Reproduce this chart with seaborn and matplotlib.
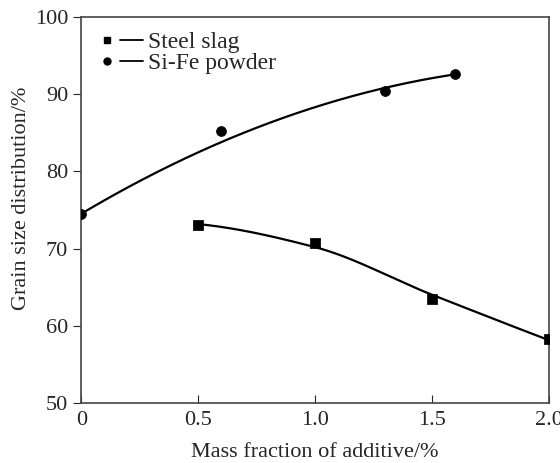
import numpy as np
import pandas as pd
import matplotlib
matplotlib.use('Agg')
import matplotlib.pyplot as plt
from matplotlib.lines import Line2D
from matplotlib.legend_handler import HandlerTuple
import seaborn as sns

# dados
slag_x = [0.5, 1.0, 1.5, 2.0]
slag_y = [73.0, 70.7, 63.5, 58.3]
sife_x = [0.0, 0.6, 1.3, 1.6]
sife_y = [74.5, 85.3, 90.4, 92.6]


def pchip(x, y, xs):
    """Interpolacao cubica monotona (Fritsch-Carlson) para suavizar a curva."""
    x = np.asarray(x, float)
    y = np.asarray(y, float)
    h = np.diff(x)
    d = np.diff(y) / h
    m = np.zeros_like(y)
    for k in range(1, len(x) - 1):
        if d[k - 1] * d[k] > 0:
            w1 = 2 * h[k] + h[k - 1]
            w2 = h[k] + 2 * h[k - 1]
            m[k] = (w1 + w2) / (w1 / d[k - 1] + w2 / d[k])
    # extremidades
    m0 = ((2 * h[0] + h[1]) * d[0] - h[0] * d[1]) / (h[0] + h[1])
    m[0] = m0 if np.sign(m0) == np.sign(d[0]) else 0.0
    mn = ((2 * h[-1] + h[-2]) * d[-1] - h[-1] * d[-2]) / (h[-1] + h[-2])
    m[-1] = mn if np.sign(mn) == np.sign(d[-1]) else 0.0
    idx = np.clip(np.searchsorted(x, xs) - 1, 0, len(x) - 2)
    t = (xs - x[idx]) / h[idx]
    h00 = 2 * t**3 - 3 * t**2 + 1
    h10 = t**3 - 2 * t**2 + t
    h01 = -2 * t**3 + 3 * t**2
    h11 = t**3 - t**2
    return (h00 * y[idx] + h10 * h[idx] * m[idx]
            + h01 * y[idx + 1] + h11 * h[idx] * m[idx + 1])


sns.set_style('ticks')
plt.rcParams['font.family'] = ['Liberation Serif', 'DejaVu Serif']

fig = plt.figure(figsize=(5.6, 4.63), dpi=100)
ax = fig.add_axes([0.145, 0.13, 0.835, 0.833])

# curvas suavizadas (media entre interpolacao e ajuste quadratico)
xs1 = np.linspace(min(slag_x), max(slag_x), 300)
ys1 = 0.5 * (pchip(slag_x, slag_y, xs1)
             + np.polyval(np.polyfit(slag_x, slag_y, 2), xs1))
xs2 = np.linspace(min(sife_x), max(sife_x), 300)
ys2 = np.polyval(np.polyfit(sife_x, sife_y, 2, w=[10, 1, 2.3, 10]), xs2)

sns.lineplot(x=xs1, y=ys1, ax=ax, color='black', linewidth=1.6)
sns.lineplot(x=xs2, y=ys2, ax=ax, color='black', linewidth=1.6)
sns.scatterplot(x=slag_x, y=slag_y, ax=ax, color='black', marker='s', s=45,
                edgecolor='black', zorder=3)
sns.scatterplot(x=sife_x, y=sife_y, ax=ax, color='black', marker='o', s=50,
                edgecolor='black', zorder=3)

ax.set_xlim(0, 2.0)
ax.set_ylim(50, 100)
ax.set_xticks([0, 0.5, 1.0, 1.5, 2.0])
ax.set_xticklabels(['0', '0.5', '1.0', '1.5', '2.0'])
ax.set_yticks([50, 60, 70, 80, 90, 100])
ax.tick_params(axis='x', direction='in', length=6, labelsize=16, pad=6)
ax.tick_params(axis='y', direction='out', length=6, labelsize=16)
for s in ax.spines.values():
    s.set_linewidth(1.2)
    s.set_color('#444444')

ax.set_xlabel('Mass fraction of additive/%', fontsize=16, labelpad=9)
ax.set_ylabel('Grain size distribution/%', fontsize=16)
ax.yaxis.set_label_coords(-0.107, 0.53)

h1 = (Line2D([], [], marker='s', color='black', linestyle='none', markersize=4.5),
      Line2D([], [], color='black', linewidth=1.3))
h2 = (Line2D([], [], marker='o', color='black', linestyle='none', markersize=5),
      Line2D([], [], color='black', linewidth=1.3))
ax.legend([h1, h2], ['Steel slag', 'Si-Fe powder'],
          handler_map={tuple: HandlerTuple(ndivide=None, pad=0.1)},
          loc='upper left', frameon=False, fontsize=17, handlelength=2.0,
          handletextpad=0.25, labelspacing=0.0, borderaxespad=0.2,
          borderpad=0.4)

fig.savefig('out.png', dpi=100)
